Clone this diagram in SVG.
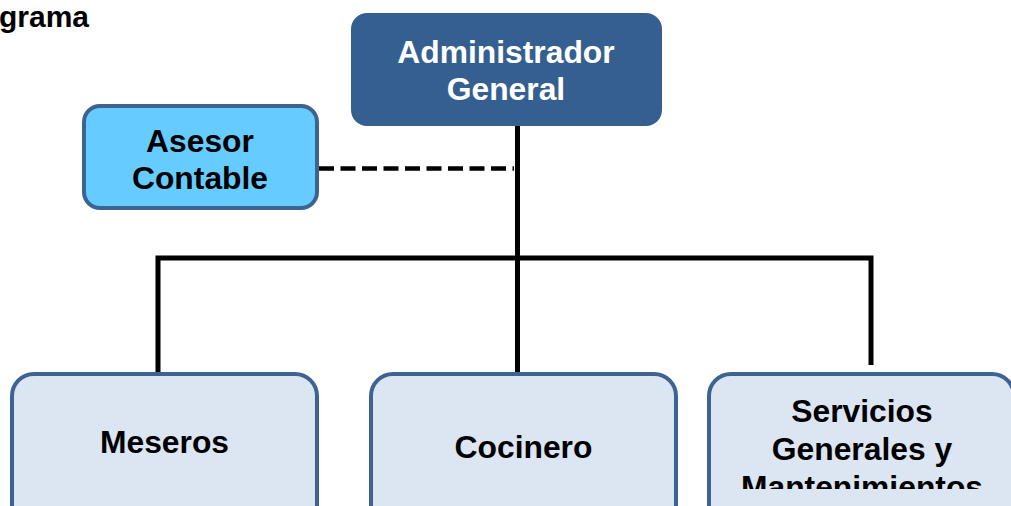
<svg xmlns="http://www.w3.org/2000/svg" width="1011" height="506" viewBox="0 0 1011 506">
<style>
  text { font-family: "Liberation Sans", Arial, sans-serif; font-weight: bold; text-anchor: middle; }
  .lbl { font-size: 31.8px; fill: #000; }
  .white { fill: #fff; }
  .box { stroke: #3D6491; stroke-width: 4; }
  .sub { fill: #DCE6F2; }
  .conn { stroke: #000; stroke-width: 5; fill: none; }
</style>
<defs>
  <clipPath id="svcClip"><rect x="707" y="372" width="310" height="117"/></clipPath>
</defs>
<rect width="1011" height="506" fill="#fff"/>
<text x="-1" y="27" style="text-anchor:start;font-size:30px">grama</text>
<g id="connectors">
  <line class="conn" x1="517.5" y1="124" x2="517.5" y2="374"/>
  <polyline class="conn" points="158,372 158,258 871,258 871,365"/>
  <line x1="319" y1="168.5" x2="514" y2="168.5" stroke="#000" stroke-width="4.5" stroke-dasharray="15,6.5"/>
</g>
<g id="admin">
  <rect x="351" y="13" width="311" height="113" rx="16" fill="#365F91"/>
  <text class="lbl white" x="506" y="63">Administrador</text>
  <text class="lbl white" x="506" y="100">General</text>
</g>
<g id="asesor">
  <rect class="box" x="84" y="106" width="233" height="102" rx="16" fill="#66CCFF"/>
  <text class="lbl" x="200" y="152">Asesor</text>
  <text class="lbl" x="200" y="189">Contable</text>
</g>
<g id="meseros">
  <rect class="box sub" x="12" y="374" width="305" height="160" rx="22"/>
  <text class="lbl" x="164.5" y="453">Meseros</text>
</g>
<g id="cocinero">
  <rect class="box sub" x="371" y="374" width="305" height="160" rx="22"/>
  <text class="lbl" x="523.5" y="458">Cocinero</text>
</g>
<g id="servicios">
  <rect class="box sub" x="709" y="374" width="305" height="160" rx="22"/>
  <g clip-path="url(#svcClip)">
    <text class="lbl" x="862" y="422">Servicios</text>
    <text class="lbl" x="862" y="460">Generales y</text>
    <text class="lbl" x="862" y="498">Mantenimientos</text>
  </g>
</g>
</svg>
